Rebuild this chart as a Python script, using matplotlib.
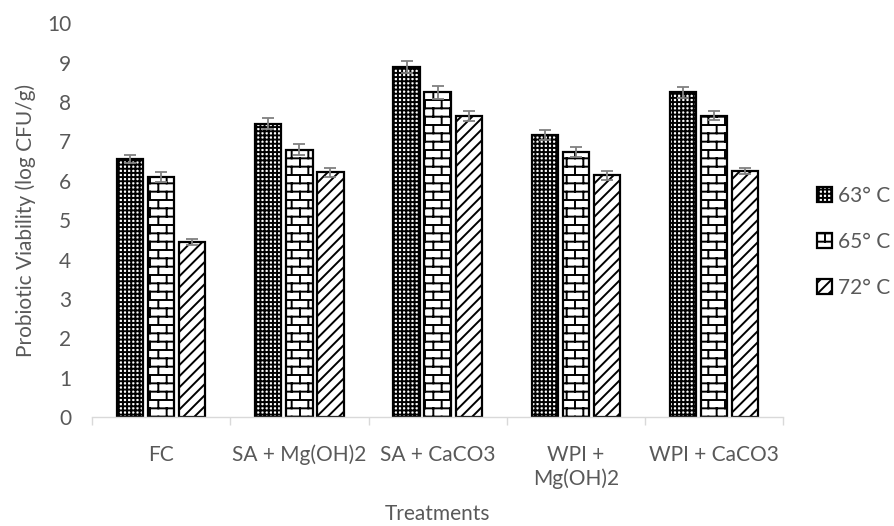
import warnings
warnings.filterwarnings("ignore")
import numpy as np
import matplotlib
matplotlib.use("Agg")
import matplotlib.pyplot as plt
from matplotlib import hatch as mhatch
from matplotlib.path import Path
from matplotlib.patches import Patch

categories = ["FC", "SA + Mg(OH)2", "SA + CaCO3", "WPI +\nMg(OH)2", "WPI + CaCO3"]
series_labels = ["63° C", "65° C", "72° C"]
v63 = [6.55, 7.45, 8.89, 7.16, 8.24]
v65 = [6.10, 6.79, 8.24, 6.72, 7.65]
v72 = [4.44, 6.21, 7.64, 6.14, 6.24]
e63 = [0.10, 0.13, 0.15, 0.13, 0.14]
e65 = [0.13, 0.13, 0.17, 0.13, 0.12]
e72 = [0.08, 0.12, 0.13, 0.11, 0.08]


class BrickHatch(mhatch.HatchPatternBase):
    def __init__(self, hatch, density):
        n = hatch.count('b')
        self.rows = int(n * density)
        self.cols = self.rows // 2
        if self.rows == 0:
            self.num_vertices = 0
            return
        segs = 0
        for k in range(self.rows):
            segs += (self.cols + 1) if k % 2 == 0 else self.cols
        self.num_vertices = 2 * (self.rows + 1) + 2 * segs

    def set_vertices_and_codes(self, vertices, codes):
        i = 0
        R, C = self.rows, self.cols
        for k in range(R + 1):
            y = k / R
            vertices[i] = (0.0, y); codes[i] = Path.MOVETO; i += 1
            vertices[i] = (1.0, y); codes[i] = Path.LINETO; i += 1
        for k in range(R):
            y0, y1 = k / R, (k + 1) / R
            if k % 2 == 0:
                xs = [j / C for j in range(C + 1)]
            else:
                xs = [(j + 0.5) / C for j in range(C)]
            for x in xs:
                vertices[i] = (x, y0); codes[i] = Path.MOVETO; i += 1
                vertices[i] = (x, y1); codes[i] = Path.LINETO; i += 1


mhatch._hatch_types.append(BrickHatch)

plt.rcParams['font.family'] = ['Lato', 'DejaVu Sans']
plt.rcParams['hatch.linewidth'] = 1.4

text_color = '#595959'
fs = 15
fig = plt.figure(figsize=(8.94, 5.26), dpi=100)
ax = fig.add_axes([0.103, 0.207, 0.773, 0.749])

x = np.arange(len(categories))
pitch = 0.225
width = 0.19
hatches = ['++++', 'bb', '///']
vals = [v63, v65, v72]
errs = [e63, e65, e72]
for i in range(3):
    pos = x + (i - 1) * pitch
    ax.bar(pos, vals[i], width, color='white', edgecolor='black',
           linewidth=1.6, hatch=hatches[i], zorder=2)
    ax.errorbar(pos, vals[i], yerr=errs[i], fmt='none', ecolor='#808080',
                elinewidth=1.3, capsize=4.5, capthick=1.3, zorder=3)

ax.set_xlim(-0.5, len(categories) - 0.5)
ax.set_ylim(0, 10)
ax.set_yticks(np.arange(0, 11, 1))
ax.set_xticks(x)
ax.set_xticklabels(categories)
ax.set_xticks(np.arange(-0.5, len(categories), 1), minor=True)
ax.tick_params(axis='x', which='major', length=0, pad=20, labelsize=fs, labelcolor=text_color)
ax.tick_params(axis='x', which='minor', length=6, width=1, color='#d9d9d9')
ax.tick_params(axis='y', length=0, pad=15, labelsize=fs, labelcolor=text_color)
for s in ['top', 'right', 'left']:
    ax.spines[s].set_visible(False)
ax.spines['bottom'].set_color('#d9d9d9')
ax.spines['bottom'].set_linewidth(1)

ax.set_ylabel('Probiotic Viability (log CFU/g)', fontsize=fs, color=text_color, labelpad=8)
ax.set_xlabel('Treatments', fontsize=fs, color=text_color, labelpad=11)

handles = [Patch(facecolor='white', edgecolor='black', hatch=hatches[i], linewidth=1.6,
                 label=series_labels[i]) for i in range(3)]
leg = ax.legend(handles=handles, loc='center left', bbox_to_anchor=(1.022, 0.445),
                frameon=False, fontsize=fs, labelcolor=text_color,
                handlelength=0.7, handleheight=0.7, handletextpad=0.3,
                labelspacing=1.25)

fig.savefig('out.png', dpi=100)
